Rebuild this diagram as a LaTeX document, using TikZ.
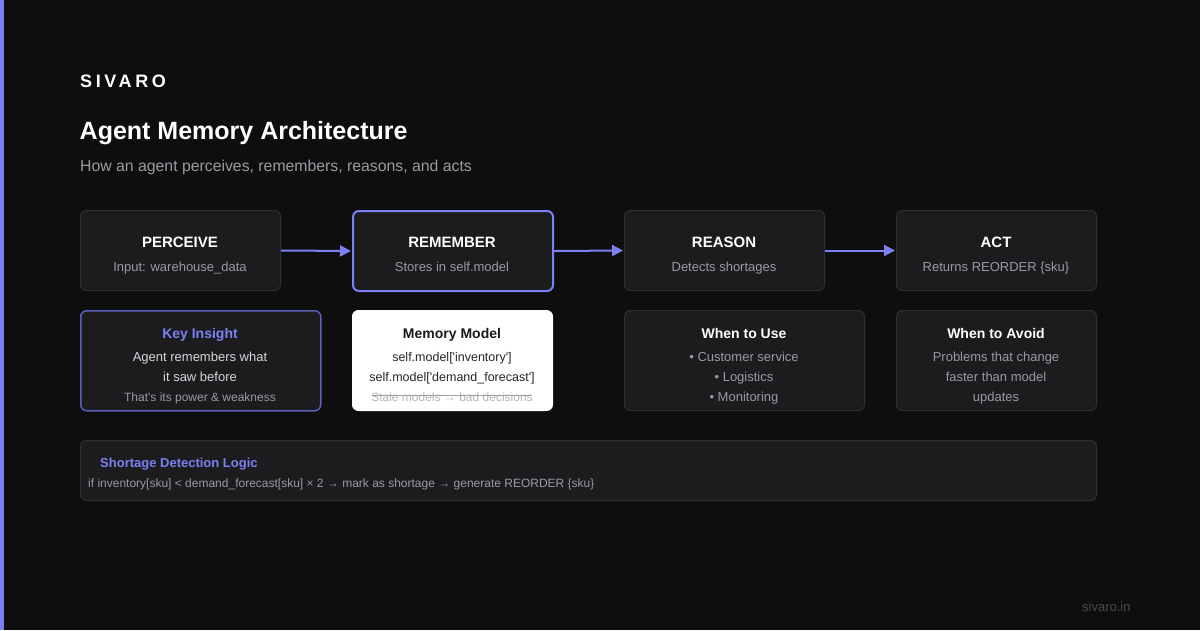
\documentclass[tikz,border=0pt]{standalone}
\usepackage{fontspec}
\setmainfont{Liberation Sans}
\usetikzlibrary{arrows.meta}
\definecolor{bg}{HTML}{0E0E0F}
\definecolor{boxfill}{HTML}{1C1C1F}
\definecolor{boxline}{HTML}{2E2E33}
\definecolor{accent}{HTML}{7B80F2}
\definecolor{accentdim}{HTML}{5A5FB8}
\definecolor{subgray}{HTML}{9A9AA2}
\definecolor{lightgray}{HTML}{D6D6DA}
\definecolor{darkgray}{HTML}{4A4A4F}
\definecolor{strikegray}{HTML}{B4B4B8}
\definecolor{strikeline}{HTML}{A0A0A4}
\newcommand{\fs}[1]{\fontsize{#1}{#1}\selectfont}
\newcommand{\sq}{\textquotesingle}
\tikzset{
  card/.style={draw=boxline, line width=1pt, fill=boxfill, rounded corners=6pt, anchor=north west, inner sep=0pt},
  title/.style={text=white, font=\fs{15}\bfseries, anchor=base, inner sep=0pt},
  sub/.style={text=subgray, font=\fs{13}, anchor=base, inner sep=0pt},
  flow/.style={draw=accent, line width=2pt, -{Triangle[length=11pt,width=11pt]}, shorten >=1pt},
}
\begin{document}
\begin{tikzpicture}[x=1pt,y=-1pt]
\fill[bg] (0,0) rectangle (1200,630);
\useasboundingbox (0,0) rectangle (1200,630);
\fill[accent] (0,0) rectangle (4,630);

\node[anchor=base west, text=white, inner sep=0pt, font=\fs{18}\bfseries\addfontfeature{LetterSpace=20}] (brand) at (80,87.5) {SIVARO};
\node[anchor=base west, text=white, inner sep=0pt, font=\fs{25}\bfseries] (head) at (79.5,139) {Agent Memory Architecture};
\node[anchor=base west, text=subgray, inner sep=0pt, font=\fs{15.8}] (subhead) at (80,171.5) {How an agent perceives, remembers, reasons, and acts};

% top row
\node[card, minimum width=200pt, minimum height=80pt] (perceive) at (80,210) {};
\node[card, draw=accent, line width=2pt, minimum width=200pt, minimum height=80pt] (remember) at (352,210) {};
\node[card, minimum width=200pt, minimum height=80pt] (reason) at (624,210) {};
\node[card, minimum width=200pt, minimum height=80pt] (act) at (896,210) {};

\node[title] (t1) at (180,247.4) {PERCEIVE};
\node[sub] (s1) at (180,271.7) {Input: warehouse\_data};
\node[title] (t2) at (452,247.4) {REMEMBER};
\node[sub] (s2) at (452,271.7) {Stores in self.model};
\node[title] (t3) at (724,247.4) {REASON};
\node[sub] (s3) at (724,271.7) {Detects shortages};
\node[title] (t4) at (996,247.4) {ACT};
\node[sub] (s4) at (996,271.7) {Returns REORDER \{sku\}};

\draw[flow] (perceive.east) -- (remember.west);
\draw[flow] (remember.east) -- (reason.west);
\draw[flow] (reason.east) -- (act.west);

% second row
\node[card, draw=accentdim, line width=1.5pt, minimum width=240pt, minimum height=100pt] (insight) at (80,310) {};
\node[card, draw=white, fill=white, minimum width=200pt, minimum height=100pt] (memory) at (352,310) {};
\node[card, minimum width=240pt, minimum height=100pt] (use) at (624,310) {};
\node[card, minimum width=200pt, minimum height=100pt] (avoid) at (896,310) {};

\node[title, text=accent, font=\fs{14}\bfseries] (ki) at (200,338) {Key Insight};
\node[sub, text=lightgray] (ki1) at (200,361.7) {Agent remembers what};
\node[sub, text=lightgray] (ki2) at (200,381.7) {it saw before};
\node[sub, font=\fs{12}] (ki3) at (200,401.3) {That\sq s its power \& weakness};

\node[title, text=black!90, font=\fs{14}\bfseries] (mm) at (452,338) {Memory Model};
\node[sub, text=black!85, font=\fs{12.5}] (mm1) at (452,361) {self.model[\sq inventory\sq]};
\node[sub, text=black!85, font=\fs{12.5}] (mm2) at (452,381) {self.model[\sq demand\_forecast\sq]};
\node[sub, text=strikegray, font=\fs{12}] (mm3) at (452,401.3) {Stale models → bad decisions};
\coordinate (strikeL) at (372,395);
\coordinate (strikeR) at (532,395);
\draw[strikeline, line width=1pt] (strikeL) -- (strikeR);

\node[title, font=\fs{14}\bfseries] (wu) at (744,338) {When to Use};
\node[sub] (wu1) at (744,361.7) {• Customer service};
\node[sub] (wu2) at (744,381.7) {• Logistics};
\node[sub] (wu3) at (744,401.7) {• Monitoring};

\node[title, font=\fs{14}\bfseries] (wa) at (996,338) {When to Avoid};
\node[sub] (wa1) at (996,361.7) {Problems that change};
\node[sub] (wa2) at (996,381.7) {faster than model};
\node[sub] (wa3) at (996,401.7) {updates};

% bottom
\node[card, minimum width=1016pt, minimum height=60pt] (logic) at (80,440) {};
\node[anchor=base west, inner sep=0pt, text=accent, font=\fs{13}\bfseries] (lt) at (100,467.7) {Shortage Detection Logic};
\node[anchor=base west, inner sep=0pt, text=subgray, font=\fs{12}] (ll) at (88,487.3) {if inventory[sku] < demand\_forecast[sku] × 2 → mark as shortage → generate REORDER \{sku\}};

\node[anchor=base west, inner sep=0pt, text=darkgray, font=\fs{13}] (foot) at (1082,611.7) {sivaro.in};
\end{tikzpicture}
\end{document}
